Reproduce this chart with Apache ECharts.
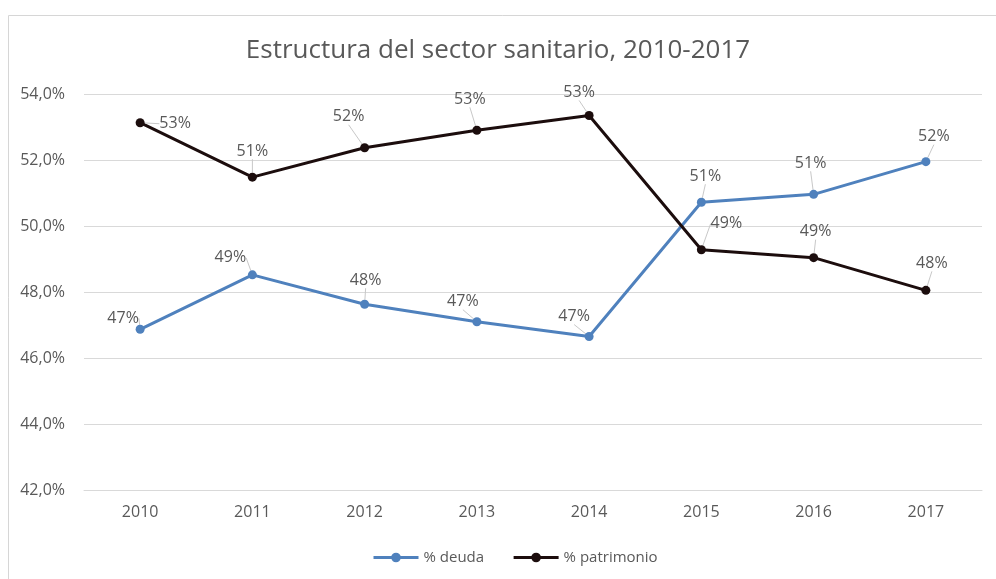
<!DOCTYPE html>
<html>
<head>
<meta charset="utf-8">
<script src="https://cdn.jsdelivr.net/npm/echarts@6/dist/echarts.min.js"></script>
<style>
  html, body { margin: 0; padding: 0; background: #fff; }
  #chart { width: 996px; height: 579px; }
</style>
</head>
<body>
<div id="chart"></div>
<script>
// Años del periodo analizado
const years = ['2010', '2011', '2012', '2013', '2014', '2015', '2016', '2017'];
// Porcentaje de deuda sobre el total (%)
const deuda = [46.87, 48.52, 47.63, 47.10, 46.65, 50.72, 50.96, 51.95];
// Porcentaje de patrimonio sobre el total (%)
const patrimonio = [53.13, 51.48, 52.37, 52.90, 53.35, 49.28, 49.04, 48.05];
// Escala del eje vertical
const yMin = 42, yMax = 54, yStep = 2;

// Desplazamiento de cada etiqueta respecto a su punto [dx, dy]
const labelShift = [
  [[-17, -11], [-22, -17], [1, -24], [-14, -20], [-15, -20], [4, -26], [-3, -31], [8, -25]],
  [[35, 1], [0, -26], [-16, -31], [-7, -31], [-10, -23], [25, -26], [2, -26], [6, -27]]
];

const FONT = 'Open Sans';
const TXT = '#595959';
const BLUE = '#4f81bd';
const DARK = '#1c0d0d';

const chart = echarts.init(document.getElementById('chart'), null, { renderer: 'canvas' });

function makeSeries(name, values, color, idx) {
  return {
    name: name,
    type: 'line',
    data: values,
    symbol: 'circle',
    symbolSize: 9,
    lineStyle: { width: 3, color: color },
    itemStyle: { color: color },
    label: {
      show: true,
      position: 'inside',
      fontFamily: FONT,
      fontSize: 16,
      color: TXT,
      formatter: p => Math.round(p.value) + '%'
    },
    labelLine: { show: true, lineStyle: { color: '#c8c8c8', width: 1 } },
    labelLayout: p => {
      const s = labelShift[idx][p.dataIndex];
      return { dx: s[0], dy: s[1] };
    },
    emphasis: { disabled: true }
  };
}

chart.setOption({
  animation: false,
  backgroundColor: '#fff',
  title: {
    text: 'Estructura del sector sanitario, 2010-2017',
    left: 'center',
    top: 33,
    textStyle: { fontFamily: FONT, fontSize: 26, fontWeight: 'normal', color: TXT }
  },
  graphic: [{
    type: 'rect',
    shape: { x: 8.5, y: 15.5, width: 1000, height: 600 },
    style: { fill: 'none', stroke: '#d6d6d6', lineWidth: 1 },
    silent: true
  }],
  legend: {
    bottom: 9,
    left: 367,
    itemWidth: 45,
    itemHeight: 12,
    itemGap: 28,
    lineStyle: { width: 3 },
    textStyle: { fontFamily: FONT, fontSize: 15, color: TXT },
    data: ['% deuda', '% patrimonio']
  },
  grid: { left: 84, right: 14, top: 94, bottom: 89 },
  xAxis: {
    type: 'category',
    data: years,
    boundaryGap: true,
    axisLine: { show: true, lineStyle: { color: '#d9d9d9' } },
    axisTick: { show: false },
    axisLabel: { fontFamily: FONT, fontSize: 16, color: TXT, margin: 14 }
  },
  yAxis: {
    type: 'value',
    min: yMin,
    max: yMax,
    interval: yStep,
    axisLine: { show: false },
    axisTick: { show: false },
    splitLine: { lineStyle: { color: '#d9d9d9', width: 1 } },
    axisLabel: {
      fontFamily: FONT,
      fontSize: 16,
      color: TXT,
      margin: 19,
      formatter: v => v.toFixed(1).replace('.', ',') + '%'
    }
  },
  series: [
    makeSeries('% deuda', deuda, BLUE, 0),
    makeSeries('% patrimonio', patrimonio, DARK, 1)
  ]
});
</script>
</body>
</html>
